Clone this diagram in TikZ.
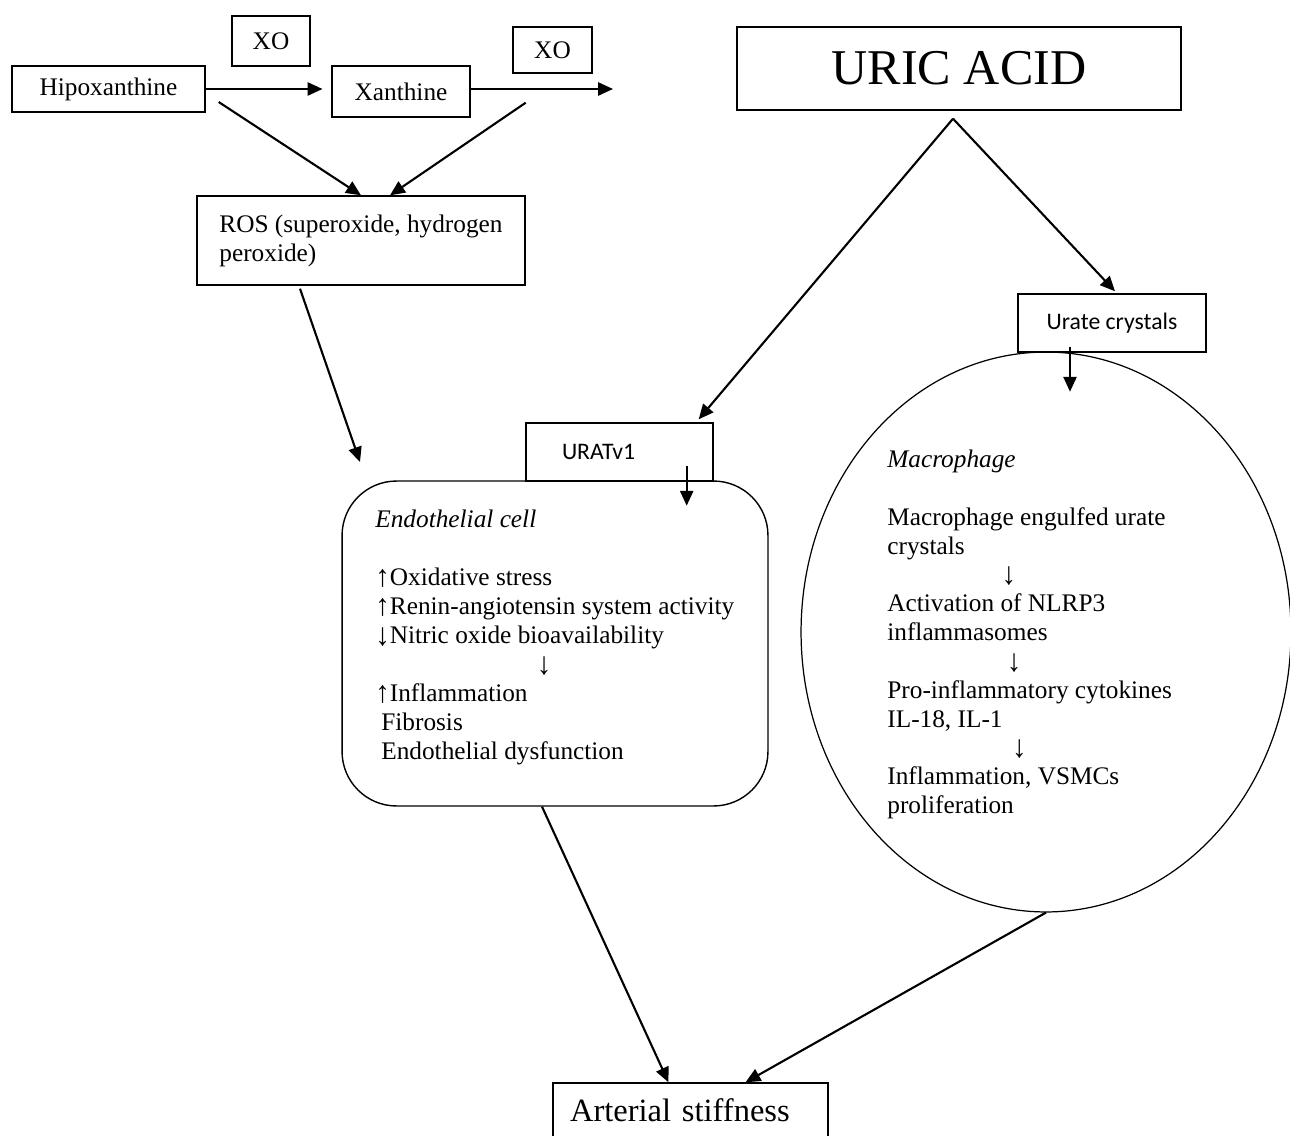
\documentclass[tikz,border=0pt]{standalone}
\usepackage{fontspec}
\setmainfont{Liberation Serif}
\newfontfamily\calibfont{Carlito}
\usetikzlibrary{arrows.meta,shapes.geometric,calc}
\newcommand{\uarr}{\smash{\raisebox{-0.5pt}{\scalebox{1.15}[1.2]{↑}}}}
\newcommand{\darr}{\smash{\raisebox{-1pt}{\scalebox{1.15}[1.25]{↓}}}}

\begin{document}
\begin{tikzpicture}[x=0.02cm,y=-0.02cm,inner sep=0pt,
	box/.style={draw,line width=0.8pt},
	arr/.style={-{Triangle[length=8.5pt,width=7.5pt]},line width=1.2pt},
	norm/.style={font=\fontsize{14.4}{16.5}\selectfont},
	sans/.style={font=\calibfont\fontsize{13.5}{16}\selectfont}]
	\useasboundingbox (0,0) rectangle (1290,1135);
	% top row: purine breakdown
	\node[box,norm,minimum width=3.86cm,minimum height=0.92cm] (hipo) at (108.5,89) {Hipoxanthine};
	\node[box,norm,minimum width=1.56cm,minimum height=1cm] (xoA) at (271,41) {XO};
	\node[box,norm,minimum width=2.76cm,minimum height=1.02cm] (xan) at (401,91.5) {Xanthine};
	\node[box,norm,minimum width=1.58cm,minimum height=0.92cm] (xoB) at (552.5,50) {XO};
	\coordinate (xanend) at (613,89);
	\node[box,norm,align=left,minimum width=6.56cm,minimum height=1.78cm] (ros) at (361,240.5)
		{ROS (superoxide, hydrogen\\peroxide)};
	\coordinate (rosend) at (360,462);
	% uric acid and its targets
	\node[box,font=\fontsize{28.5}{32}\selectfont,minimum width=8.88cm,minimum height=1.66cm] (uric) at (959,68.5) {URIC ACID};
	\node[box,sans,minimum width=3.76cm,minimum height=1.16cm] (urate) at (1112,323) {Urate crystals};
	\node[draw,line width=0.7pt,ellipse,minimum width=9.8cm,minimum height=11.2cm] (macro) at (1046,632) {};
	\node[draw,line width=0.8pt,rounded corners=31pt,minimum width=8.52cm,minimum height=6.5cm] (endo) at (555,643.5) {};
	\node[box,sans,fill=white,align=left,text width=2.3cm,inner xsep=0.72cm,minimum height=1.16cm] (urat) at (619.5,452) {URATv1};
	\node[box,font=\fontsize{18.5}{20}\selectfont,align=left,text width=4.82cm,inner xsep=0.34cm,minimum height=1.1cm] (art) at (690.5,1110.5) {Arterial stiffness};
	% cell contents
	\node[norm,align=left,anchor=north west] (endotext) at (375,510)
		{\textit{Endothelial cell}\\[16.5pt]
		\uarr Oxidative stress\\
		\uarr Renin-angiotensin system activity\\
		\darr Nitric oxide bioavailability\\
		\hspace*{92pt}\darr\\
		\uarr Inflammation\\
		\hspace*{3.4pt}Fibrosis\\
		\hspace*{3.4pt}Endothelial dysfunction};
	\node[norm,align=left,anchor=north west,font=\fontsize{14.4}{16.4}\selectfont] (macrotext) at (887,450)
		{\textit{Macrophage}\\[16.4pt]
		Macrophage engulfed urate\\
		crystals\\
		\hspace*{65pt}\darr\\
		Activation of NLRP3\\
		inflammasomes\\
		\hspace*{68pt}\darr\\
		Pro-inflammatory cytokines\\
		IL-18, IL-1\\
		\hspace*{71pt}\darr\\
		Inflammation, VSMCs\\
		proliferation};
	% connectors
	\path[arr]
		(hipo.east) edge[shorten >=5pt] (hipo.east -| xan.west)
		(xan.east |- xanend) edge (xanend)
		($(hipo.east)+(13,13)$) edge (ros.north)
		($(xan.south east)+(55,-15)$) edge ($(ros.north)+(29,0)$)
		($(ros.south)+(-61,3)$) edge (rosend)
		($(uric.south)+(-6,8)$) edge ($(urat.north east)+(-15,-3)$)
		($(uric.south)+(-6,8)$) edge ($(urate.north)+(3,-2)$)
		($(urat.south east)+(-27,-16)$) edge ($(urat.south east)+(-27,24)$)
		($(urate.south)+(-42,-6)$) edge ($(urate.south)+(-42,39)$)
		($(endo.south)+(-13,0)$) edge ($(art.north)+(-22,0)$)
		(macro.south) edge ($(art.north)+(55,0)$);
\end{tikzpicture}
\end{document}
